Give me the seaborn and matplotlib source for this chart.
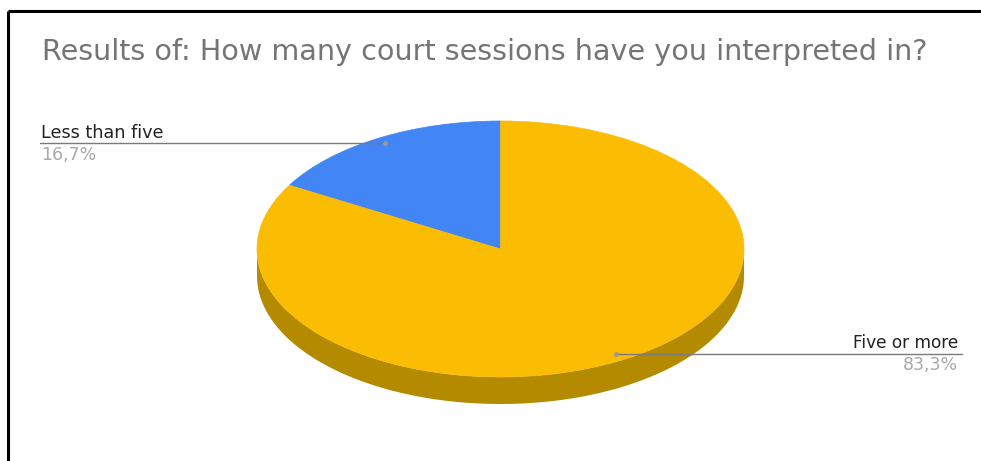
import numpy as np
import matplotlib
matplotlib.use("Agg")
import matplotlib.pyplot as plt
from matplotlib.patches import Wedge
from matplotlib.transforms import Affine2D
import seaborn as sns

# Survey answers and their shares (%)
categories = ["Less than five", "Five or more"]
shares = [16.7, 83.3]
slice_colors = ["#4285F4", "#FBBC04"]
side_color = "#B38A00"
title_text = "Results of: How many court sessions have you interpreted in?"

sns.set_theme(style="white")
plt.rcParams["font.family"] = ["DejaVu Sans"]

W, H = 981, 461
fig = plt.figure(figsize=(W / 100, H / 100), dpi=100)
ax = fig.add_axes([0, 0, 1, 1])
ax.set_xlim(0, W)
ax.set_ylim(H, 0)
ax.axis("off")

# frame lines (top and left)
ax.plot([8, W], [11.5, 11.5], color="black", lw=2.2, solid_capstyle="butt")
ax.plot([8, 8], [11.5, H], color="black", lw=2.2, solid_capstyle="butt")

# pie geometry (pixels)
cx, cy, rx, ry, depth = 500.5, 249.0, 243.5, 128.0, 27.0
ell = Affine2D().scale(rx, -ry).translate(cx, cy) + ax.transData

# visible front wall of the disc
th = np.radians(np.linspace(180, 360, 200))
top_x = cx + rx * np.cos(th)
top_y = cy - ry * np.sin(th)
ax.fill(np.r_[top_x, top_x[::-1]], np.r_[top_y, top_y[::-1] + depth],
        color=side_color, lw=0, zorder=1)

# top face slices, starting at 12 o'clock, counter-clockwise
fracs = np.array(shares) / np.sum(shares)
starts = 90 + 360 * np.r_[0, np.cumsum(fracs)[:-1]]
ends = starts + 360 * fracs
for a0, a1, c in zip(starts, ends, slice_colors):
    ax.add_patch(Wedge((0, 0), 1.0, a0, a1, facecolor=c, edgecolor=c,
                       lw=0.5, transform=ell, zorder=2))

fig.canvas.draw()
renderer = fig.canvas.get_renderer()


def fitted_text(x, y, s, width, ha="left", color="black", max_size=None):
    t = ax.text(x, y, s, ha=ha, va="baseline", color=color, fontsize=10,
                zorder=4)
    w = t.get_window_extent(renderer).width
    size = 10 * width / w
    if max_size is not None:
        size = min(size, max_size)
    t.set_fontsize(size)
    return t


fitted_text(42, 60, title_text, 883, color="#757575")

# leader lines and labels
label_pos = [
    dict(text_x=41, name_base=138, pct_base=160, line_y=143, ha="left",
         name_w=122, pct_w=55),
    dict(text_x=958, name_base=348, pct_base=370, line_y=354, ha="right",
         name_w=106, pct_w=55),
]
mids = np.radians((starts + ends) / 2)
for cat, share, m, lp in zip(categories, shares, mids, label_pos):
    px = cx + 0.95 * rx * np.cos(m)
    py = cy - 0.95 * ry * np.sin(m)
    end_x = lp["text_x"] + (-1 if lp["ha"] == "left" else 4)
    ax.plot([end_x, px], [lp["line_y"], lp["line_y"]], color="#7a7a7a",
            lw=1.0, zorder=3)
    ax.plot([px], [lp["line_y"]], "o", ms=2.5, color="#9a9a9a", zorder=3)
    fitted_text(lp["text_x"], lp["name_base"], cat, lp["name_w"], ha=lp["ha"],
                color="#222222")
    pct = f"{share:.1f}".replace(".", ",") + "%"
    fitted_text(lp["text_x"], lp["pct_base"], pct, lp["pct_w"], ha=lp["ha"],
                color="#a8a8a8")

fig.savefig("out.png", dpi=100, facecolor="white")
